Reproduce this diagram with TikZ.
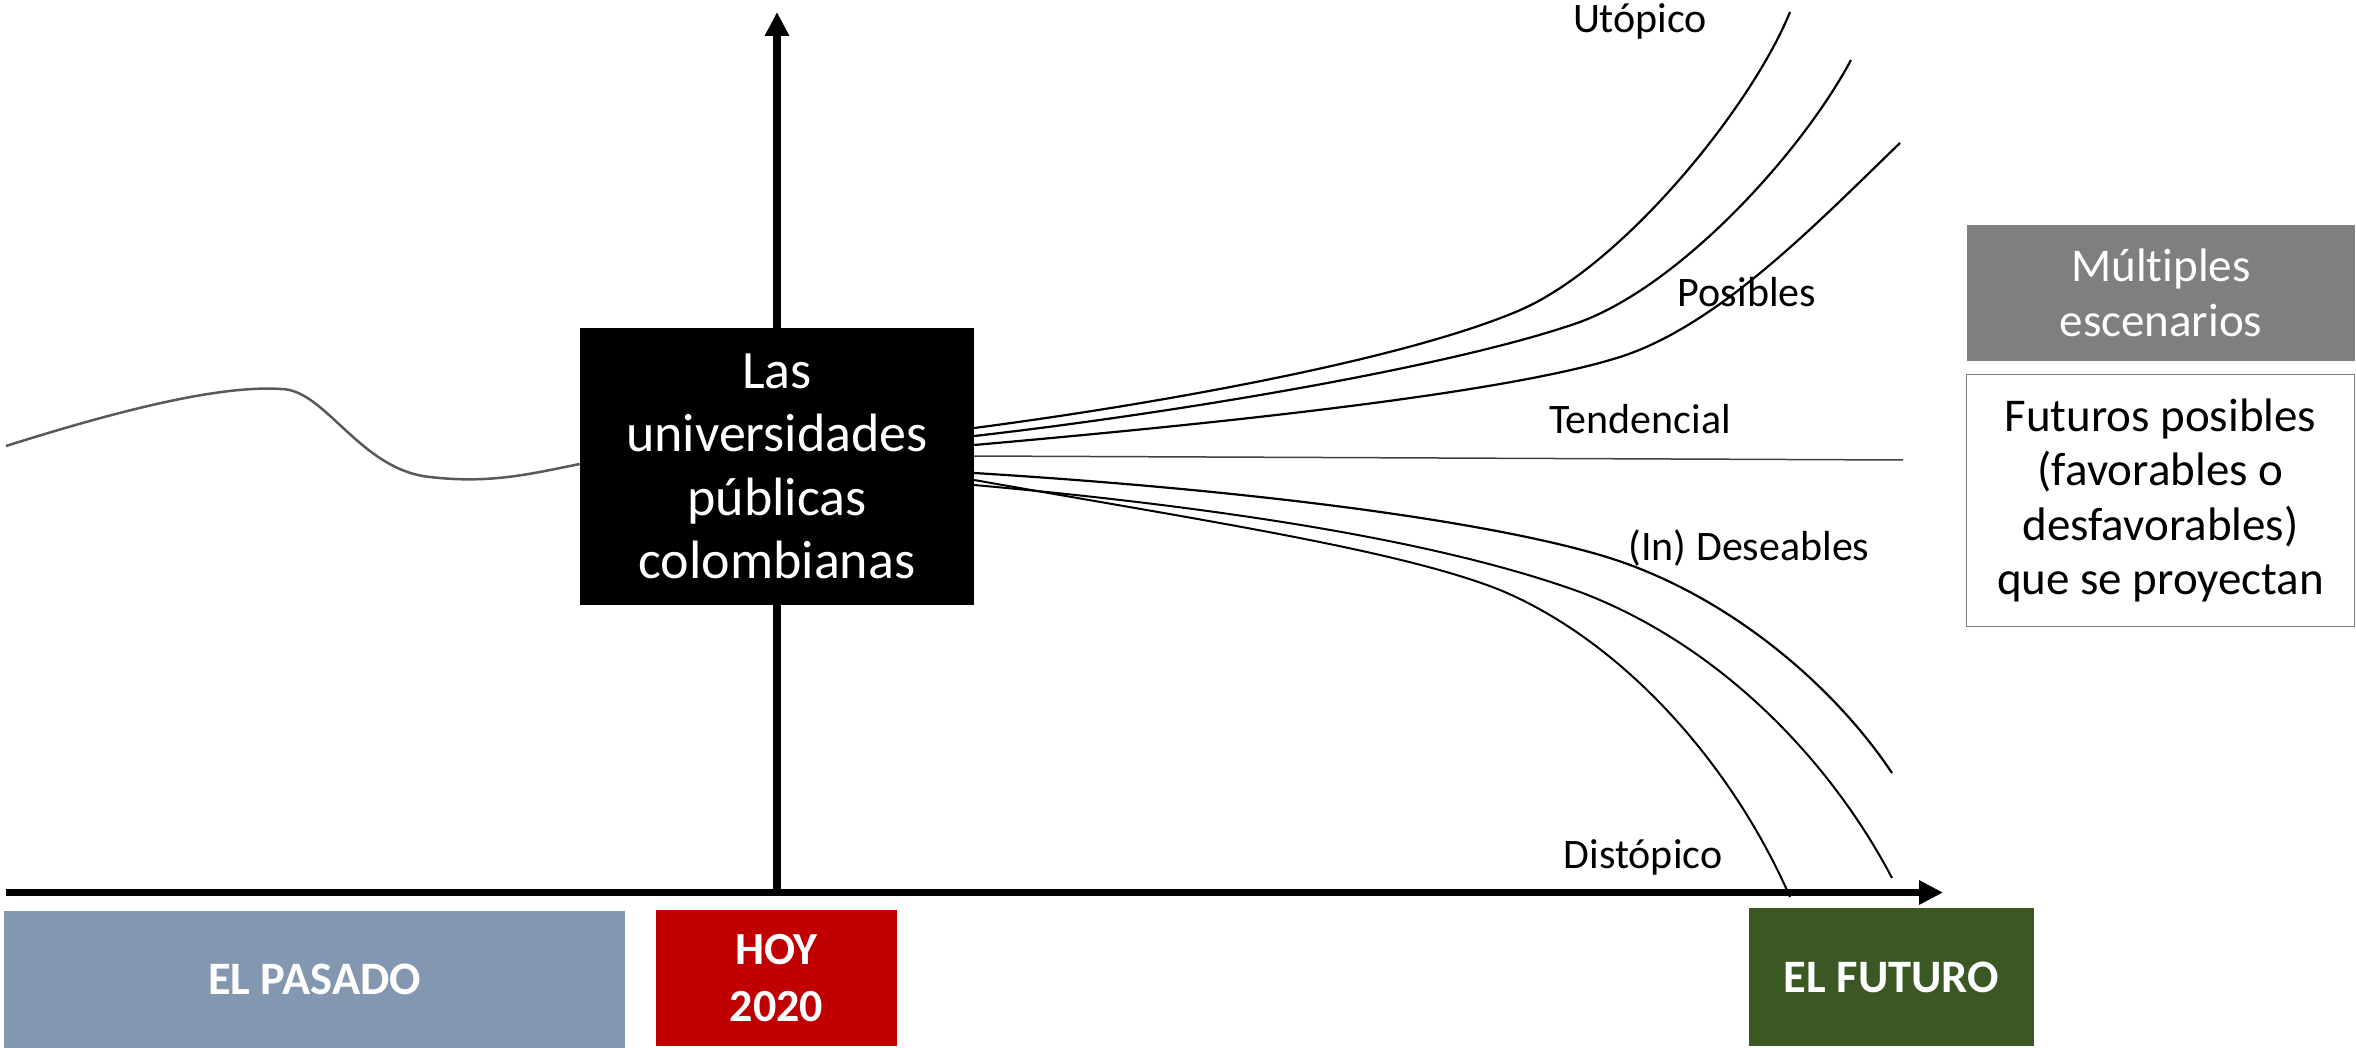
\documentclass[tikz,border=0pt]{standalone}
\usepackage{fontspec}
\setmainfont{Carlito}[Ligatures={NoCommon,NoContextual}]
\usetikzlibrary{arrows.meta,calc}
\definecolor{pasado}{HTML}{8497B0}
\definecolor{hoy}{HTML}{C00000}
\definecolor{futuro}{HTML}{3A5724}
\definecolor{grisbox}{HTML}{7F7F7F}
\definecolor{pastline}{HTML}{595959}
\definecolor{tendline}{HTML}{404040}
\begin{document}
\begin{tikzpicture}[x=1pt,y=-1pt,
  boxfill/.style={draw=none, inner sep=0pt, align=center, text=white},
  curve/.style={line width=2.2pt, black},
  lbl/.style={font=\fontsize{42}{50}\selectfont, anchor=base, inner sep=0pt},
  axisline/.style={line width=7.5pt, -{Triangle[length=24pt,width=23pt]}}
]
\useasboundingbox (0,0) rectangle (2356,1048);
% axes
\coordinate (origin) at (777,892.5);
\coordinate (ytip) at (777,12);
\coordinate (xstart) at (6,892.5);
\coordinate (xtip) at (1943,892.5);
\draw[axisline, line width=8pt] (origin) -- (ytip);
% central box
\node[boxfill, fill=black, minimum width=394pt, minimum height=277pt,
      font=\fontsize{54}{63.5}\selectfont] (uni) at (777,466.5)
      {Las\\universidades\\públicas\\colombianas};
% past curve
\coordinate (past0) at (6,446);
\draw[pastline, line width=2.5pt] (past0) .. controls (120,410) and (220,385) .. (281,389)
   .. controls (325,389) and (360,470) .. (430,477)
   .. controls (490,484) and (530,474) .. ([yshift=2.5pt]uni.west);
% scenario curve ends
\coordinate (e1) at (1790,12);
\coordinate (e2) at (1851,60);
\coordinate (e3) at (1900,143);
\coordinate (et) at (1903,460);
\coordinate (e4) at (1892,773);
\coordinate (e5) at (1892,878);
\coordinate (e6) at (1790,897);
\draw[curve] ([yshift=38.5pt]uni.east) .. controls (1150,405) and (1400,361) .. (1518,311)
   .. controls (1620,268) and (1750,110) .. (e1);
\draw[curve] ([yshift=30.5pt]uni.east) .. controls (1160,415) and (1450,368) .. (1580,322)
   .. controls (1680,285) and (1800,155) .. (e2);
\draw[curve] ([yshift=21.5pt]uni.east) .. controls (1200,425) and (1500,395) .. (1620,357)
   .. controls (1720,325) and (1820,220) .. (e3);
\draw[tendline, line width=1.5pt] ([yshift=10.5pt]uni.east) -- (et);
\draw[curve] ([yshift=-6.5pt]uni.east) .. controls (1250,490) and (1480,520) .. (1600,555)
   .. controls (1720,590) and (1830,680) .. (e4);
\draw[curve, line width=2pt] ([yshift=-18.5pt]uni.east) .. controls (1250,510) and (1450,545) .. (1580,592)
   .. controls (1720,645) and (1830,760) .. (e5);
\draw[curve, line width=2pt] ([yshift=-13.5pt]uni.east) .. controls (1200,520) and (1400,550) .. (1500,590)
   .. controls (1620,640) and (1730,760) .. (e6);
% horizontal axis
\draw[axisline] (xstart) -- (xtip);
% labels
\node[lbl] (lutop) at (1640,33) {Utópico};
\node[lbl] (lpos) at (1747,307) {Posibles};
\node[lbl] (ltend) at (1640,433) {Tendencial};
\node[lbl] (ldes) at (1749,560) {(In) Deseables};
\node[lbl] (ldist) at (1643,868) {Distópico};
% bottom boxes
\node[boxfill, fill=pasado, minimum width=621pt, minimum height=137pt,
      font=\bfseries\fontsize{46.5}{54}\selectfont] (pasado) at (314.5,979.5) {EL PASADO};
\node[boxfill, fill=hoy, minimum width=241pt, minimum height=136pt,
      font=\bfseries\fontsize{46}{57}\selectfont] (hoy) at (776.5,978) {HOY\\2020};
\node[boxfill, fill=futuro, minimum width=285pt, minimum height=138pt,
      font=\bfseries\fontsize{46.5}{54}\selectfont] (futuro) at (1891.5,977) {EL FUTURO};
% right boxes
\node[boxfill, fill=grisbox, minimum width=388pt, minimum height=136pt,
      font=\fontsize{47}{55}\selectfont] (mult) at (2161,293) {Múlt\kern0pt iples\\escenarios};
\node[boxfill, fill=white, draw=grisbox, line width=1.5pt, text=black,
      minimum width=388pt, minimum height=252pt,
      font=\fontsize{47}{54.5}\selectfont] (fut) at (2160.5,500.5)
      {Futuros posibles\\(favorables o\\desfavorables)\\que se proyectan};
\end{tikzpicture}
\end{document}
